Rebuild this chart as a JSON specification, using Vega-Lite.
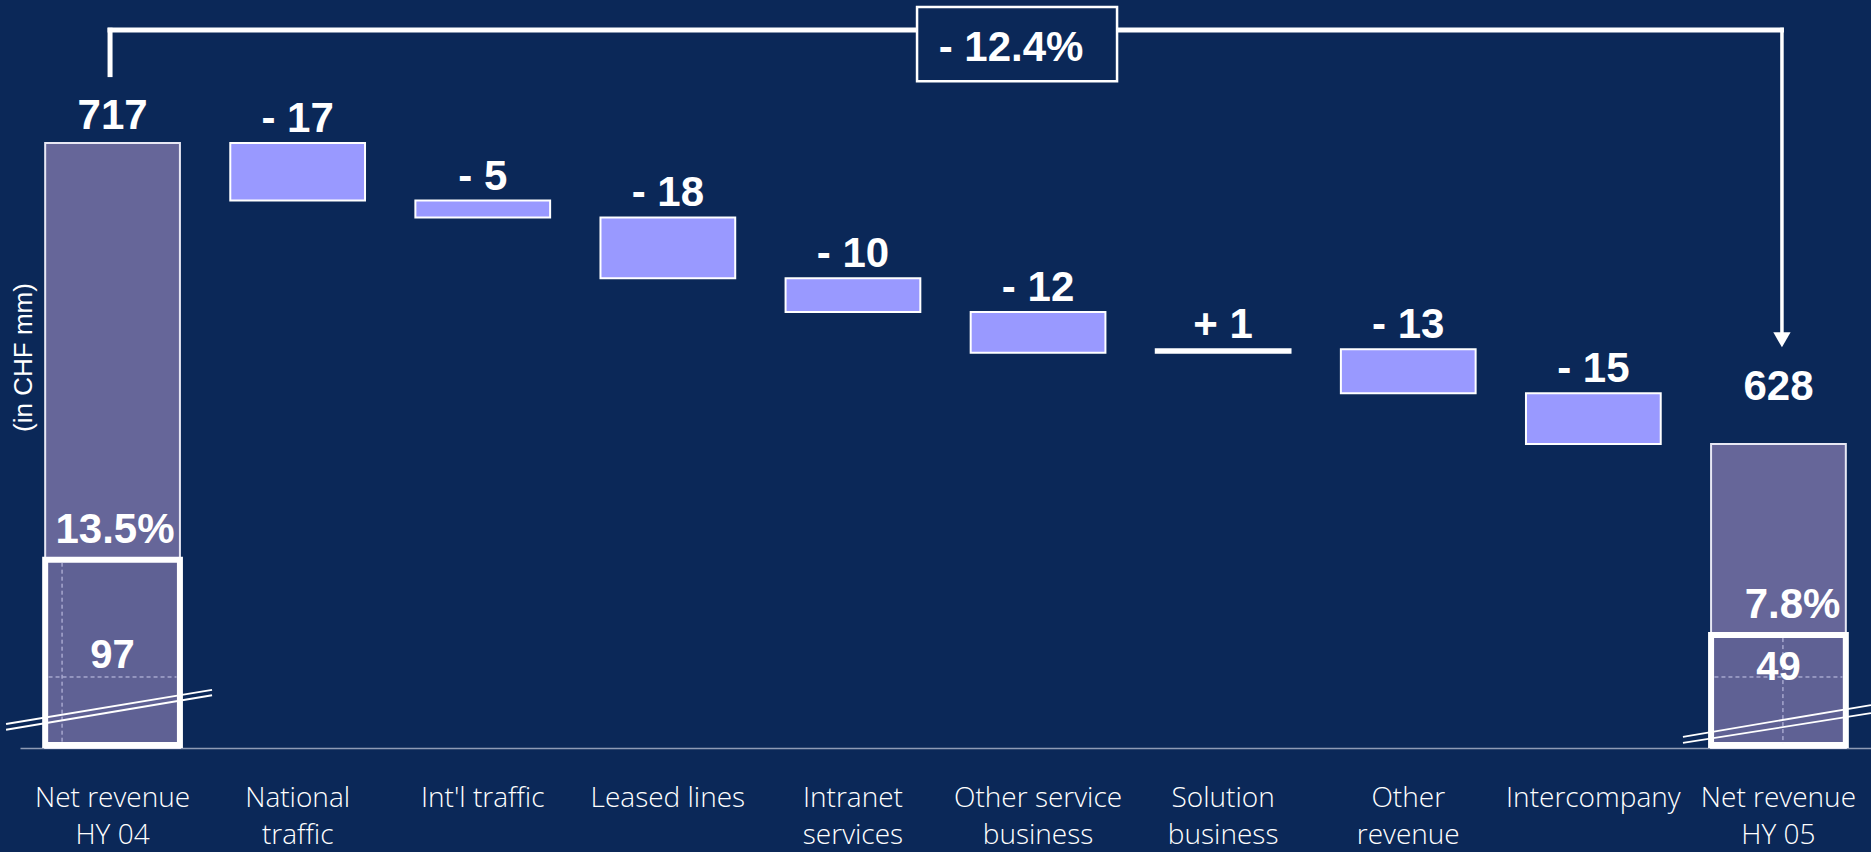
{
  "$schema": "https://vega.github.io/schema/vega-lite/v6.json",
  "autosize": {"type": "none"},
  "padding": {"left": 20, "top": 0, "right": 0, "bottom": 104},
  "width": 1851,
  "height": 748,
  "background": "#0b2858",
  "config": {"view": {"stroke": null}},
  "datasets": {
    "bars": [
      {"cat": "National|traffic", "lo": 700, "hi": 717, "label": "- 17"},
      {"cat": "Int'l traffic", "lo": 695, "hi": 700, "label": "- 5"},
      {"cat": "Leased lines", "lo": 677, "hi": 695, "label": "- 18"},
      {"cat": "Intranet|services", "lo": 667, "hi": 677, "label": "- 10"},
      {"cat": "Other service|business", "lo": 655, "hi": 667, "label": "- 12"},
      {"cat": "Solution|business", "lo": 655, "hi": 656, "label": "+ 1"},
      {"cat": "Other|revenue", "lo": 643, "hi": 656, "label": "- 13"},
      {"cat": "Intercompany", "lo": 628, "hi": 643, "label": "- 15"}
    ],
    "totals": [
      {"cat": "Net revenue|HY 04", "total": 717, "margin": 97, "pct": "13.5%", "boxTop": 593.8, "marginAt": 561.8},
      {"cat": "Net revenue|HY 05", "total": 628, "margin": 49, "pct": "7.8%", "boxTop": 571.5, "marginAt": 558.2}
    ],
    "change": [{"cat": "Other service|business", "text": "- 12.4%"}]
  },
  "encoding": {
    "x": {
      "field": "cat",
      "type": "nominal",
      "sort": null,
      "scale": {
        "type": "band",
        "domain": ["Net revenue|HY 04", "National|traffic", "Int'l traffic", "Leased lines", "Intranet|services", "Other service|business", "Solution|business", "Other|revenue", "Intercompany", "Net revenue|HY 05"],
        "paddingInner": 0.272,
        "paddingOuter": 0.136
      },
      "axis": {
        "title": null,
        "orient": "bottom",
        "ticks": false,
        "tickSize": 0,
        "grid": false,
        "domain": true,
        "domainColor": "#8f9bb5",
        "domainWidth": 1.6,
        "labelAngle": 0,
        "labelPadding": 58,
        "labelBaseline": "alphabetic",
        "labelFont": "Open Sans",
        "labelFontWeight": 300,
        "labelFontSize": 28,
        "labelLineHeight": 37,
        "labelColor": "#ffffff",
        "labelLimit": 0,
        "labelOverlap": false,
        "labelExpr": "split(datum.label, '|')"
      }
    }
  },
  "layer": [
    {
      "data": {"name": "totals"},
      "mark": {"type": "bar", "fill": "#666699", "stroke": "#e8e8f4", "strokeWidth": 2},
      "encoding": {
        "y": {
          "field": "total",
          "type": "quantitative",
          "scale": {"domain": [538.1, 759.3], "zero": false, "nice": false},
          "axis": {
            "title": "(in CHF mm)",
            "labels": false,
            "ticks": false,
            "domain": false,
            "grid": false,
            "titleX": 3.5,
            "titleY": 357,
            "titleAngle": 270,
            "titleAlign": "center",
            "titleBaseline": "middle",
            "titleFont": "Liberation Sans",
            "titleFontSize": 26,
            "titleFontWeight": "normal",
            "titleColor": "#ffffff"
          }
        },
        "y2": {"datum": 538.1}
      }
    },
    {
      "data": {"name": "totals"},
      "mark": {"type": "bar", "fill": "#5f6194", "stroke": "#ffffff", "strokeWidth": 6},
      "encoding": {"y": {"field": "boxTop", "type": "quantitative"}, "y2": {"datum": 539}}
    },
    {
      "data": {"values": [{"a": 592.9, "b": 539.5}]},
      "mark": {"type": "rule", "stroke": "#c9c9ea", "strokeWidth": 1, "strokeDash": [4, 3], "xOffset": -50.5},
      "encoding": {"x": {"datum": "Net revenue|HY 04"}, "y": {"field": "a", "type": "quantitative"}, "y2": {"field": "b"}}
    },
    {
      "data": {"values": [{"a": 570.6, "b": 539.5}]},
      "mark": {"type": "rule", "stroke": "#c9c9ea", "strokeWidth": 1, "strokeDash": [4, 3], "xOffset": 4.5},
      "encoding": {"x": {"datum": "Net revenue|HY 05"}, "y": {"field": "a", "type": "quantitative"}, "y2": {"field": "b"}}
    },
    {
      "data": {"name": "totals"},
      "mark": {"type": "rule", "stroke": "#c9c9ea", "strokeWidth": 1, "strokeDash": [4, 3], "xOffset": -64, "x2Offset": 64},
      "encoding": {"x": {"field": "cat", "type": "nominal"}, "x2": {"field": "cat"}, "y": {"datum": 559.1}}
    },
    {
      "data": {"values": [{"a": 545.2, "b": 555.3}, {"a": 543.5, "b": 553.7}]},
      "mark": {"type": "rule", "stroke": "#ffffff", "strokeWidth": 1.8, "xOffset": -106.5, "x2Offset": 99.5},
      "encoding": {"x": {"datum": "Net revenue|HY 04"}, "x2": {"datum": "Net revenue|HY 04"}, "y": {"field": "a", "type": "quantitative"}, "y2": {"field": "b"}}
    },
    {
      "data": {"values": [{"a": 541.4, "b": 550.8}, {"a": 539.6, "b": 548.4}]},
      "mark": {"type": "rule", "stroke": "#ffffff", "strokeWidth": 1.8, "xOffset": -95.5, "x2Offset": 92.5},
      "encoding": {"x": {"datum": "Net revenue|HY 05"}, "x2": {"datum": "Net revenue|HY 05"}, "y": {"field": "a", "type": "quantitative"}, "y2": {"field": "b"}}
    },
    {
      "data": {"name": "bars"},
      "mark": {"type": "bar", "stroke": "#ffffff", "strokeWidth": 2},
      "encoding": {
        "y": {"field": "hi", "type": "quantitative"},
        "y2": {"field": "lo"},
        "fill": {"condition": {"test": "datum.hi - datum.lo < 2", "value": "#ffffff"}, "value": "#9999ff"}
      }
    },
    {
      "data": {"name": "bars"},
      "mark": {"type": "text", "font": "Liberation Sans", "fontWeight": "bold", "fontSize": 42, "color": "#ffffff", "baseline": "alphabetic", "dy": -11},
      "encoding": {"y": {"field": "hi", "type": "quantitative"}, "text": {"field": "label"}}
    },
    {
      "data": {"name": "totals"},
      "transform": [{"filter": "datum.total == 717"}],
      "mark": {"type": "text", "font": "Liberation Sans", "fontWeight": "bold", "fontSize": 42, "color": "#ffffff", "baseline": "alphabetic", "dy": -14},
      "encoding": {"y": {"field": "total", "type": "quantitative"}, "text": {"field": "total"}}
    },
    {
      "data": {"name": "totals"},
      "transform": [{"filter": "datum.total == 628"}],
      "mark": {"type": "text", "font": "Liberation Sans", "fontWeight": "bold", "fontSize": 42, "color": "#ffffff", "baseline": "alphabetic", "dy": -44},
      "encoding": {"y": {"field": "total", "type": "quantitative"}, "text": {"field": "total"}}
    },
    {
      "data": {"name": "totals"},
      "mark": {"type": "text", "font": "Liberation Sans", "fontWeight": "bold", "fontSize": 42, "color": "#ffffff", "baseline": "alphabetic", "align": "right", "dx": 62, "dy": -17},
      "encoding": {"y": {"field": "boxTop", "type": "quantitative"}, "text": {"field": "pct"}}
    },
    {
      "data": {"name": "totals"},
      "mark": {"type": "text", "font": "Liberation Sans", "fontWeight": "bold", "fontSize": 40, "color": "#ffffff", "baseline": "alphabetic"},
      "encoding": {"y": {"field": "marginAt", "type": "quantitative"}, "text": {"field": "margin"}}
    },
    {
      "data": {"values": [{}]},
      "mark": {"type": "rule", "stroke": "#ffffff", "strokeWidth": 5, "xOffset": -5, "x2Offset": 5.5},
      "encoding": {"x": {"datum": "Net revenue|HY 04"}, "x2": {"datum": "Net revenue|HY 05"}, "y": {"datum": 750.4}}
    },
    {
      "data": {"values": [{}]},
      "mark": {"type": "rule", "stroke": "#ffffff", "strokeWidth": 5, "xOffset": -2.5},
      "encoding": {"x": {"datum": "Net revenue|HY 04"}, "y": {"datum": 751.1}, "y2": {"datum": 736.5}}
    },
    {
      "data": {"values": [{}]},
      "mark": {"type": "rule", "stroke": "#ffffff", "strokeWidth": 3.5, "xOffset": 3.5},
      "encoding": {"x": {"datum": "Net revenue|HY 05"}, "y": {"datum": 751.1}, "y2": {"datum": 660}}
    },
    {
      "data": {"values": [{}]},
      "mark": {"type": "point", "shape": "triangle-down", "size": 300, "filled": true, "fill": "#ffffff", "opacity": 1, "strokeWidth": 0, "xOffset": 3.5},
      "encoding": {"x": {"datum": "Net revenue|HY 05"}, "y": {"datum": 658.8}}
    },
    {
      "data": {"name": "change"},
      "mark": {"type": "bar", "width": 200, "xOffset": -21, "fill": "#0b2858", "stroke": "#ffffff", "strokeWidth": 2.5},
      "encoding": {"y": {"datum": 757.2}, "y2": {"datum": 735.3}}
    },
    {
      "data": {"name": "change"},
      "mark": {"type": "text", "font": "Liberation Sans", "fontWeight": "bold", "fontSize": 42, "color": "#ffffff", "baseline": "alphabetic", "dx": -27},
      "encoding": {"y": {"datum": 741.2}, "text": {"field": "text"}}
    }
  ]
}
